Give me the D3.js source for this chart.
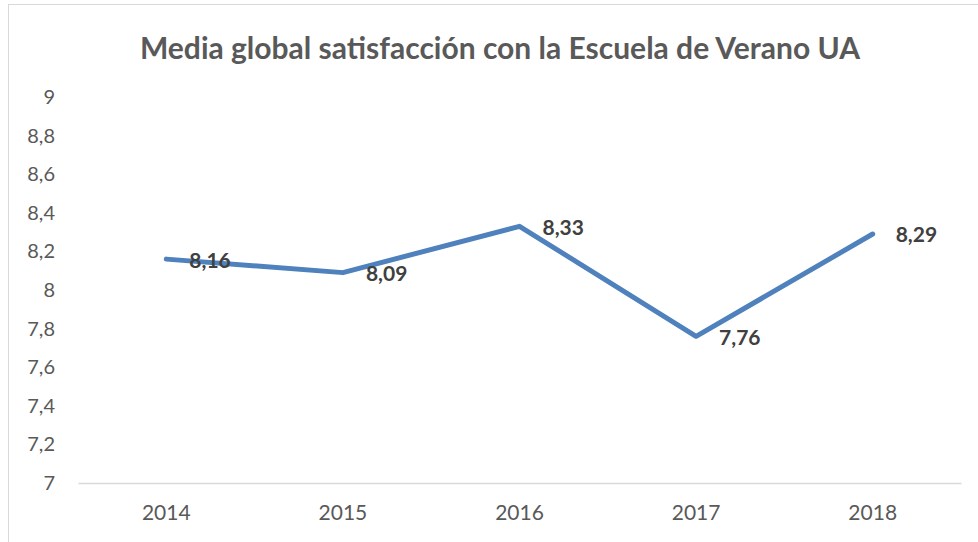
<!DOCTYPE html>
<html>
<head>
<meta charset="utf-8">
<script src="https://cdn.jsdelivr.net/npm/d3@7"></script>
<style>
  body { margin: 0; background: #fff; }
  svg { display: block; font-family: Lato, "Noto Sans", sans-serif; }
</style>
</head>
<body>
<div id="container"></div>
<script>
/* DATA */
const years = ["2014", "2015", "2016", "2017", "2018"];
const values = [8.16, 8.09, 8.33, 7.76, 8.29];
const yTicks = [7, 7.2, 7.4, 7.6, 7.8, 8, 8.2, 8.4, 8.6, 8.8, 9];
const title = "Media global satisfacción con la Escuela de Verano UA";

/* CONSTANTS */
const width = 978;
const height = 542;
const plot = { left: 78, right: 961, top: 97, bottom: 483 };

const fmt = d => String(d).replace(".", ",");

const svg = d3.select("#container")
  .append("svg")
  .attr("width", width)
  .attr("height", height);

// chart border
svg.append("rect")
  .attr("x", 8.5)
  .attr("y", 4.5)
  .attr("width", 1000)
  .attr("height", 600)
  .attr("fill", "#fff")
  .attr("stroke", "#d9d9d9")
  .attr("stroke-width", 1);

/* SCALES */
const xScale = d3.scaleBand()
  .domain(years)
  .range([plot.left, plot.right]);

const yScale = d3.scaleLinear()
  .domain([7, 9])
  .range([plot.bottom, plot.top]);

// title
svg.append("text")
  .attr("x", 500)
  .attr("y", 59)
  .attr("text-anchor", "middle")
  .attr("font-size", 30)
  .attr("font-weight", "bold")
  .attr("fill", "#595959")
  .text(title);

// y axis (labels only)
const yAxis = d3.axisLeft(yScale)
  .tickValues(yTicks)
  .tickFormat(fmt)
  .tickSize(0)
  .tickPadding(0);

svg.append("g")
  .attr("transform", `translate(${plot.left - 23}, 0)`)
  .call(yAxis)
  .call(g => g.select(".domain").remove())
  .call(g => g.selectAll("text")
    .attr("font-family", "Lato, 'Noto Sans', sans-serif")
    .attr("font-size", 20)
    .attr("fill", "#595959"));

// x axis
const xAxis = d3.axisBottom(xScale).tickSize(0).tickPadding(22);

svg.append("g")
  .attr("transform", `translate(0, ${plot.bottom})`)
  .call(xAxis)
  .call(g => g.select(".domain").attr("stroke", "#d9d9d9").attr("stroke-width", 1.5))
  .call(g => g.selectAll("text")
    .attr("font-family", "Lato, 'Noto Sans', sans-serif")
    .attr("font-size", 21)
    .attr("fill", "#595959"));

// line
const line = d3.line()
  .x((d, i) => xScale(years[i]) + xScale.bandwidth() / 2)
  .y(d => yScale(d));

svg.append("path")
  .datum(values)
  .attr("d", line)
  .attr("fill", "none")
  .attr("stroke", "#4f81bd")
  .attr("stroke-width", 5)
  .attr("stroke-linejoin", "round")
  .attr("stroke-linecap", "round");

// data labels
svg.selectAll(".label")
  .data(values)
  .join("text")
  .attr("class", "label")
  .attr("x", (d, i) => xScale(years[i]) + xScale.bandwidth() / 2 + 23)
  .attr("y", d => yScale(d) + 3)
  .attr("dominant-baseline", "middle")
  .attr("font-size", 21)
  .attr("font-weight", "bold")
  .attr("fill", "#404040")
  .text(fmt);
</script>
</body>
</html>
